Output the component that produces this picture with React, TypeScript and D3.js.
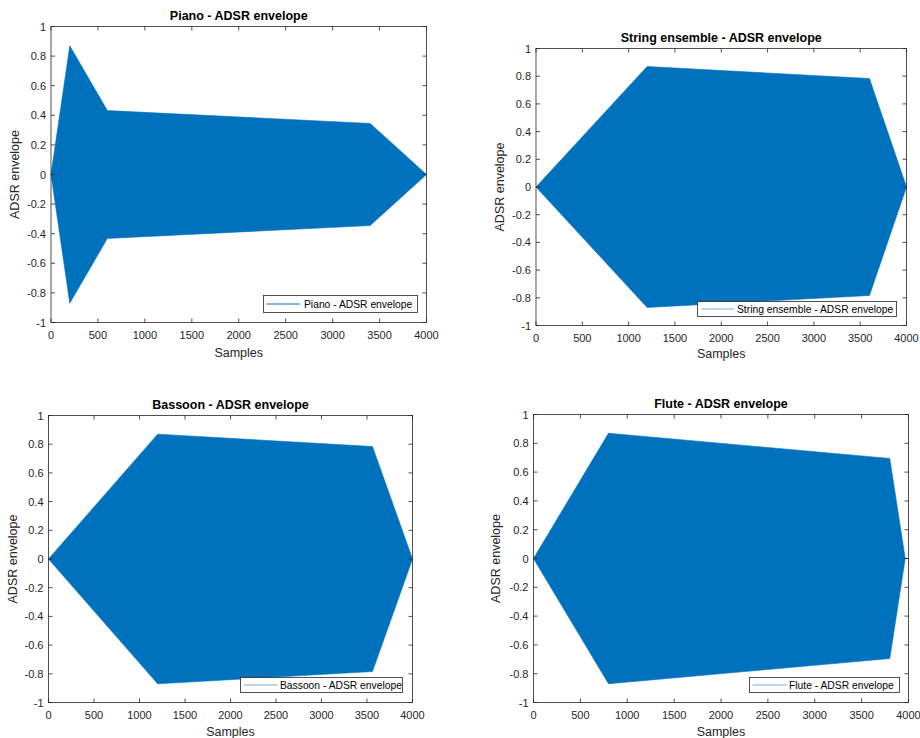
import React from "react";
import * as d3 from "d3";

const titles = [
  "Piano - ADSR envelope",
  "String ensemble - ADSR envelope",
  "Bassoon - ADSR envelope",
  "Flute - ADSR envelope",
];

const pianoX = [0, 200, 600, 3400, 4000];
const pianoY = [0, 0.87, 0.432, 0.345, 0];
const stringX = [0, 1200, 3600, 4000];
const stringY = [0, 0.87, 0.783, 0];
const bassoonX = [0, 1200, 3560, 4000];
const bassoonY = [0, 0.87, 0.784, 0];
const fluteX = [0, 800, 3800, 3965, 4000];
const fluteY = [0, 0.87, 0.695, 0, 0];

const xTicks = [0, 500, 1000, 1500, 2000, 2500, 3000, 3500, 4000];
const yTicks = [-1, -0.8, -0.6, -0.4, -0.2, 0, 0.2, 0.4, 0.6, 0.8, 1];

const seriesX = [pianoX, stringX, bassoonX, fluteX];
const seriesY = [pianoY, stringY, bassoonY, fluteY];

// layout: plot boxes and legend boxes
const boxes = [
  { l: 51, r: 426.5, t: 26.5, b: 322.5, titleY: 20, yl: 16, xl: 357 },
  { l: 536, r: 906.5, t: 48.5, b: 325.5, titleY: 42, yl: 501, xl: 358 },
  { l: 48.5, r: 412.5, t: 415.5, b: 702.5, titleY: 409, yl: 14, xl: 736 },
  { l: 533.5, r: 908.5, t: 414.5, b: 702.5, titleY: 408, yl: 497, xl: 736 },
];
const legends = [
  { x: 263.5, y: 295.5, w: 154, h: 17, lx1: 266.5, lx2: 300, tx: 304, c: "#0072BD" },
  { x: 697.5, y: 301.5, w: 199, h: 15, lx1: 701.5, lx2: 734, tx: 737, c: "#6FB0E0" },
  { x: 240.5, y: 677.5, w: 162, h: 15, lx1: 244, lx2: 277.5, tx: 280, c: "#6FB0E0" },
  { x: 749.5, y: 677.5, w: 150, h: 15, lx1: 752.5, lx2: 786.5, tx: 789, c: "#6FB0E0" },
];

const FONT = "'Liberation Sans', Arial, Helvetica, sans-serif";
const AX = "#262626";
const BLUE = "#0072BD";

function Panel({ i }: { i: number }) {
  const bx = boxes[i];
  const lg = legends[i];
  const x = d3.scaleLinear().domain([0, 4000]).range([bx.l, bx.r]);
  const y = d3.scaleLinear().domain([-1, 1]).range([bx.b, bx.t]);
  const pts = seriesX[i].map((v, k) => [v, seriesY[i][k]] as [number, number]);
  const area = d3
    .area<[number, number]>()
    .x((d) => x(d[0]))
    .y0((d) => y(-d[1]))
    .y1((d) => y(d[1]));
  const line = d3
    .line<[number, number]>()
    .x((d) => x(d[0]))
    .y(() => y(0));
  const tl = 4;
  const cx = (bx.l + bx.r) / 2;
  const cy = (bx.t + bx.b) / 2;
  return (
    <g>
      <path d={area(pts) || ""} fill={BLUE} stroke={BLUE} strokeWidth={0.6} />
      <path d={line(pts) || ""} stroke={BLUE} strokeWidth={1} fill="none" />
      <rect x={bx.l} y={bx.t} width={bx.r - bx.l} height={bx.b - bx.t} fill="none" stroke={AX} strokeWidth={0.8} />
      {xTicks.map((t) => (
        <g key={"x" + t}>
          <line x1={x(t)} x2={x(t)} y1={bx.b} y2={bx.b - tl} stroke={AX} strokeWidth={0.8} />
          <line x1={x(t)} x2={x(t)} y1={bx.t} y2={bx.t + tl} stroke={AX} strokeWidth={0.8} />
          <text x={x(t)} y={bx.b + 16} textAnchor="middle" fontSize={11} fill={AX} fontFamily={FONT}>
            {t}
          </text>
        </g>
      ))}
      {yTicks.map((t) => (
        <g key={"y" + t}>
          <line x1={bx.l} x2={bx.l + tl} y1={y(t)} y2={y(t)} stroke={AX} strokeWidth={0.8} />
          <line x1={bx.r} x2={bx.r - tl} y1={y(t)} y2={y(t)} stroke={AX} strokeWidth={0.8} />
          <text x={bx.l - 5} y={y(t) + 4} textAnchor="end" fontSize={11} fill={AX} fontFamily={FONT}>
            {String(t)}
          </text>
        </g>
      ))}
      <text x={cx} y={bx.titleY} textAnchor="middle" fontSize={12.5} fontWeight="bold" fill="#000" fontFamily={FONT}>
        {titles[i]}
      </text>
      <text x={cx} y={bx.xl} textAnchor="middle" fontSize={12.5} fill={AX} fontFamily={FONT}>
        Samples
      </text>
      <text
        transform={`translate(${bx.yl},${cy}) rotate(-90)`}
        textAnchor="middle"
        dominantBaseline="middle"
        fontSize={12.5}
        fill={AX}
        fontFamily={FONT}
      >
        ADSR envelope
      </text>
      <rect x={lg.x} y={lg.y} width={lg.w} height={lg.h} fill="#fff" stroke={AX} strokeWidth={0.8} />
      <line x1={lg.lx1} x2={lg.lx2} y1={lg.y + lg.h / 2} y2={lg.y + lg.h / 2} stroke={lg.c} strokeWidth={1} />
      <text x={lg.tx} y={lg.y + lg.h / 2 + 3.6} fontSize={10.3} fill="#000" fontFamily={FONT}>
        {titles[i]}
      </text>
    </g>
  );
}

export default function App() {
  return (
    <svg
      width={920}
      height={738}
      style={{ position: "absolute", left: 0, top: 0, background: "#fff" }}
    >
      <rect width={920} height={738} fill="#fff" />
      {[0, 1, 2, 3].map((i) => (
        <Panel key={i} i={i} />
      ))}
    </svg>
  );
}
